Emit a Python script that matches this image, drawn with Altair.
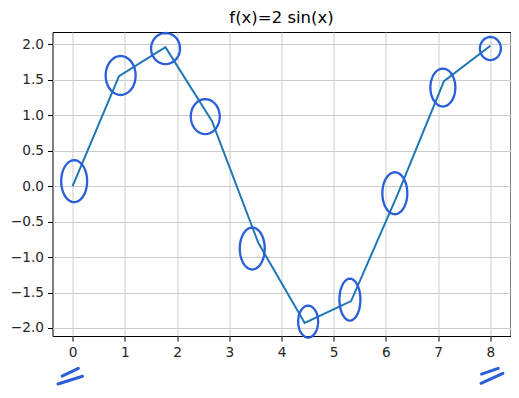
import math
import altair as alt
import pandas as pd

xs = [0.0, 0.889, 1.778, 2.667, 3.556, 4.444, 5.333, 6.222, 7.111, 8.0]
ys = [0.0, 1.55, 1.96, 0.92, -0.80, -1.93, -1.62, -0.12, 1.48, 1.98]

# Hand-drawn ellipse annotations: centres (data units) and size in px
ell_x = [0.03, 0.92, 1.78, 2.54, 3.44, 4.51, 5.31, 6.17, 7.09, 8.0]
ell_y = [0.07, 1.56, 1.94, 0.98, -0.88, -1.91, -1.60, -0.10, 1.39, 1.94]
ell_w = [26, 30, 29, 29, 25, 20, 21, 25, 25, 21]
ell_h = [42, 39, 31, 35, 42, 32, 42, 42, 38, 23]

# Hand-drawn "//" marks below axis (data units)
mk_x1 = [-0.20, -0.28, 7.83, 7.82]
mk_y1 = [-2.68, -2.79, -2.65, -2.78]
mk_x2 = [0.11, 0.19, 8.15, 8.24]
mk_y2 = [-2.57, -2.68, -2.57, -2.64]

x_ticks = [0, 1, 2, 3, 4, 5, 6, 7, 8]
y_ticks = [-2.0, -1.5, -1.0, -0.5, 0.0, 0.5, 1.0, 1.5, 2.0]

line_df = pd.DataFrame({"x": xs, "y": ys})

ids = [str(i) for i in range(len(ell_x))]
paths = []
sizes = []
for w, h in zip(ell_w, ell_h):
    m = max(w, h)
    a = w / m
    b = h / m
    pts = []
    n = 36
    for k in range(n):
        t = 2 * math.pi * k / n
        pts.append(f"{a * math.cos(t):.4f},{b * math.sin(t):.4f}")
    paths.append("M" + " L".join(pts) + " Z")
    sizes.append(m * m)
ell_df = pd.DataFrame({"x": ell_x, "y": ell_y, "id": ids, "s": sizes})
mk_df = pd.DataFrame({"x": mk_x1, "y": mk_y1, "x2": mk_x2, "y2": mk_y2})

xscale = alt.Scale(domain=[-0.385, 8.385], nice=False, zero=False)
yscale = alt.Scale(domain=[-2.113, 2.173], nice=False, zero=False)

xaxis = alt.Axis(values=x_ticks, format="d", title=None, grid=True,
                 tickSize=5, labelPadding=4, domain=False, labelOverlap=False)
yaxis = alt.Axis(values=y_ticks, format=".1f", title=None, grid=True,
                 tickSize=5, labelPadding=4, domain=False, labelOverlap=False)

base_line = alt.Chart(line_df).mark_line(color="#1f77b4", strokeWidth=2).encode(
    x=alt.X("x:Q", scale=xscale, axis=xaxis),
    y=alt.Y("y:Q", scale=yscale, axis=yaxis),
)

ellipses = alt.Chart(ell_df).mark_point(
    filled=False, color="#2b5fd9", strokeWidth=2.3, opacity=1, clip=False
).encode(
    x=alt.X("x:Q", scale=xscale, axis=xaxis),
    y=alt.Y("y:Q", scale=yscale, axis=yaxis),
    shape=alt.Shape("id:N", scale=alt.Scale(domain=ids, range=paths), legend=None),
    size=alt.Size("s:Q", scale=None, legend=None),
)

marks = alt.Chart(mk_df).mark_rule(
    color="#2b5fd9", strokeWidth=3, strokeCap="round", clip=False
).encode(
    x=alt.X("x:Q", scale=xscale, axis=xaxis),
    y=alt.Y("y:Q", scale=yscale, axis=yaxis),
    x2="x2:Q",
    y2="y2:Q",
)

chart = alt.layer(base_line, ellipses, marks).properties(
    width=458,
    height=304,
    title=alt.TitleParams("f(x)=2 sin(x)", fontSize=16.5, font="DejaVu Sans",
                          fontWeight="normal", color="#000000",
                          baseline="top", offset=2, anchor="middle",
                          frame="group"),
    autosize=alt.AutoSizeParams(type="none"),
    padding={"left": 44.5, "top": 24, "right": 0, "bottom": 50},
).configure_view(
    stroke="#000000", strokeWidth=1
).configure_axis(
    gridColor="#cccccc", gridWidth=1, tickColor="#000000",
    labelFont="DejaVu Sans", labelFontSize=13.7, labelColor="#262626",
    labelOverlap=False,
).configure_axisX(labelBaseline="top")

chart.save("out.html", embed_options={"renderer": "svg", "actions": False})
